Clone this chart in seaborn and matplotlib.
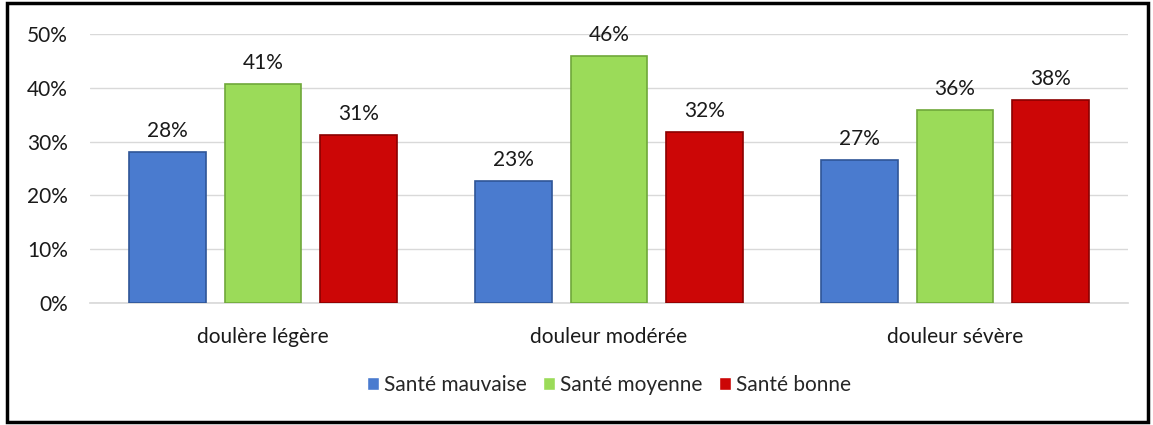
import pandas as pd
import matplotlib
matplotlib.use("Agg")
import matplotlib.pyplot as plt
import seaborn as sns
from matplotlib.patches import Rectangle
from matplotlib.ticker import PercentFormatter

# chart data
categories = ["doulère légère", "douleur modérée", "douleur sévère"]
series = ["Santé mauvaise", "Santé moyenne", "Santé bonne"]
sante_mauvaise = [28.1, 22.6, 26.6]
sante_moyenne = [40.7, 45.9, 35.9]
sante_bonne = [31.2, 31.8, 37.7]
colors = ["#4A7BCF", "#9BDB59", "#CC0606"]
edge_colors = ["#2F5597", "#6FA83A", "#8B0000"]

rows = []
for name, vals in zip(series, [sante_mauvaise, sante_moyenne, sante_bonne]):
    for cat, v in zip(categories, vals):
        rows.append({"cat": cat, "serie": name, "val": v})
df = pd.DataFrame(rows)

sns.set_theme(style="white")
plt.rcParams["font.family"] = ["Lato", "DejaVu Sans"]
fs = 15

fig = plt.figure(figsize=(11.53, 4.25), dpi=100)
ax = fig.add_axes([90 / 1153, 1 - 303 / 425, (1128 - 90) / 1153, (303 - 34) / 425])

sns.barplot(data=df, x="cat", y="val", hue="serie", order=categories,
            hue_order=series, palette=colors, width=0.83, gap=0.2,
            saturation=1, ax=ax, zorder=3)

# darker outline for a bevelled look
for cont, ec in zip(ax.containers, edge_colors):
    for bar in cont:
        bar.set_edgecolor(ec)
        bar.set_linewidth(1.2)
    ax.bar_label(cont, labels=[f"{v:.0f}%" for v in cont.datavalues],
                 padding=8, fontsize=fs, color="#1a1a1a")

ax.set_ylim(0, 50)
ax.set_yticks([0, 10, 20, 30, 40, 50])
ax.yaxis.set_major_formatter(PercentFormatter(decimals=0))
ax.grid(axis="y", color="#D9D9D9", linewidth=1, zorder=0)
ax.set_axisbelow(True)
for s in ["top", "right", "left"]:
    ax.spines[s].set_visible(False)
ax.spines["bottom"].set_color("#D9D9D9")
ax.tick_params(axis="both", length=0, labelsize=fs, colors="#1a1a1a")
ax.tick_params(axis="x", pad=17)
ax.tick_params(axis="y", pad=16)
ax.set_xlabel("")
ax.set_ylabel("")

handles, labels = ax.get_legend_handles_labels()
ax.legend(handles, labels, loc="center", bbox_to_anchor=(0.5, -0.305),
          ncol=3, frameon=False, fontsize=fs, handlelength=0.55,
          handleheight=0.55, handletextpad=0.25, columnspacing=0.8)

# thick black frame around the whole picture
fig.patches.append(Rectangle((0.006, 0.008), 0.99, 0.985, transform=fig.transFigure,
                             fill=False, edgecolor="black", linewidth=2.5))

fig.savefig("out.png", dpi=100)
